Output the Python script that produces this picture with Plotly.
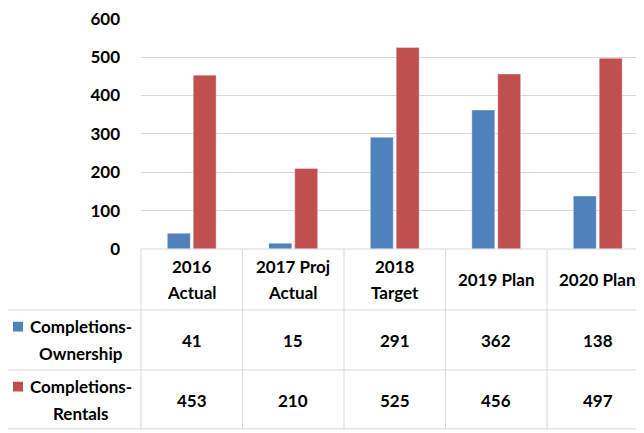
import plotly.graph_objects as go

# ---- data ----
categories = ["2016 Actual", "2017 Proj Actual", "2018 Target", "2019 Plan", "2020 Plan"]
header_lines = [["2016", "Actual"], ["2017 Proj", "Actual"], ["2018", "Target"], ["2019 Plan"], ["2020 Plan"]]
series_names = ["Completions-Ownership", "Completions-Rentals"]
legend_lines = [["Completions-", "Ownership"], ["Completions-", "Rentals"]]
ownership = [41, 15, 291, 362, 138]
rentals = [453, 210, 525, 456, 497]
y_ticks = [0, 100, 200, 300, 400, 500, 600]

colors = ["#4F81BD", "#C0504D"]
FONT = "Lato"
FS = 17
OFF = 8  # page body margin offset
W, H = 644 - OFF, 433 - OFF
L, T = 141 - OFF, 6
B = H - (249 - OFF)
plot_h = H - T - B
grid_col = "#D9D9D9"
y_range = [0, 602]

xr = [-0.5, -0.5 + (W - L) / 101.5]

def pxy(py):
    return (H - B - (py - OFF)) / plot_h

def pxx(px):
    return (max(px - OFF, 0) - L) / (W - L)

def cat_to_paper(v):
    return (v - xr[0]) / (xr[1] - xr[0])

fig = go.Figure()
for name, vals, col in zip(series_names, [ownership, rentals], colors):
    fig.add_trace(go.Bar(x=list(range(len(categories))), y=vals, name=name,
                         marker=dict(color=col, line=dict(color="rgba(255,255,255,0.35)", width=1)),
                         showlegend=False, hoverinfo="y"))

shapes = []
line = dict(color=grid_col, width=1)
shapes.append(dict(type="line", xref="paper", yref="paper", x0=0, x1=1, y0=0, y1=0, line=line))
for py in [311, 372, 432]:
    shapes.append(dict(type="line", xref="paper", yref="paper", x0=pxx(7), x1=1.0, y0=pxy(py), y1=pxy(py), line=line))
for i in range(len(categories)):
    xb = cat_to_paper(i - 0.5)
    shapes.append(dict(type="line", xref="paper", yref="paper", x0=xb, x1=xb, y0=0, y1=pxy(432), line=line))

annotations = []
for i, lines in enumerate(header_lines):
    centers = [280] if len(lines) == 1 else [267, 293]
    for ln, cy in zip(lines, centers):
        annotations.append(dict(x=i, xref="x", y=pxy(cy), yref="paper", text=f"<b>{ln}</b>", showarrow=False,
                                xanchor="center", yanchor="middle", font=dict(family=FONT, size=FS, color="black")))
for vals, cy in zip([ownership, rentals], [342, 403]):
    for i, v in enumerate(vals):
        annotations.append(dict(x=i, xref="x", y=pxy(cy), yref="paper", text=f"<b>{v}</b>", showarrow=False,
                                xanchor="center", yanchor="middle", font=dict(family=FONT, size=FS, color="black")))
for k, (lines, cy0) in enumerate(zip(legend_lines, [328, 389])):
    for j, ln in enumerate(lines):
        annotations.append(dict(x=pxx(81), xref="paper", y=pxy(cy0 + 27 * j), yref="paper", text=f"<b>{ln}</b>",
                                showarrow=False, xanchor="center", yanchor="middle",
                                font=dict(family=FONT, size=FS, color="black")))
    shapes.append(dict(type="rect", xref="paper", yref="paper", x0=pxx(13), x1=pxx(23),
                       y0=pxy(cy0 - 5), y1=pxy(cy0 + 5), fillcolor=colors[k], line=dict(width=0)))

fig.update_layout(
    width=W, height=H,
    margin=dict(l=L, r=0, t=T, b=B),
    paper_bgcolor="white", plot_bgcolor="white",
    barmode="group", bargap=0.49, bargroupgap=0.115,
    xaxis=dict(range=xr, showticklabels=False, showgrid=False, zeroline=False, showline=False, fixedrange=True),
    yaxis=dict(range=y_range, tickvals=y_ticks, showgrid=True, gridcolor=grid_col, gridwidth=1,
               zeroline=False, showline=False, ticks="", ticklabelstandoff=20, ticklabeloverflow="allow",
               tickfont=dict(family=FONT, size=FS, color="black", weight="bold")),
    shapes=shapes, annotations=annotations,
    font=dict(family=FONT, size=FS, color="black"),
)

fig.write_html("out.html")
